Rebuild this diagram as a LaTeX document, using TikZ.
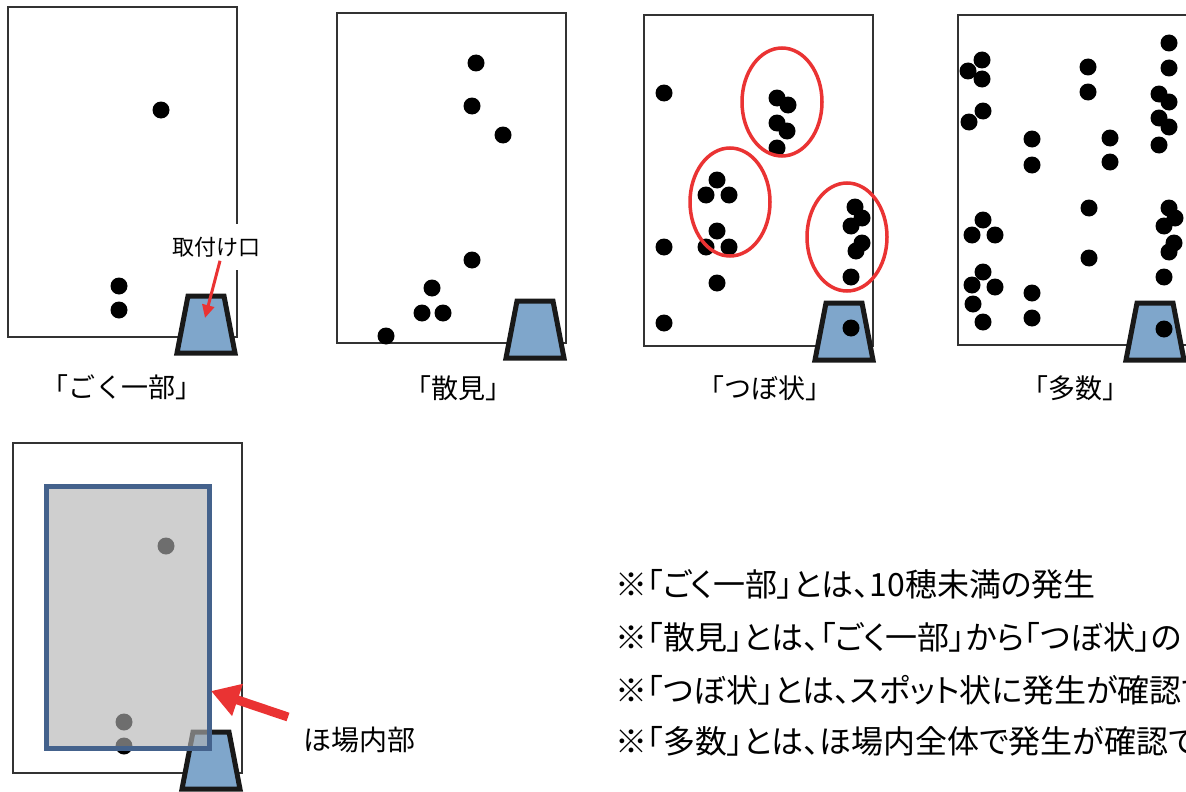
\documentclass[tikz,border=0pt]{standalone}
\usepackage{fontspec}
\usetikzlibrary{arrows.meta}
\newfontfamily\jp{Noto Sans CJK JP}
\newfontfamily\jpp[RawFeature=+palt]{Noto Sans CJK JP}
\definecolor{inletblue}{RGB}{127,166,203}
\definecolor{spotred}{RGB}{234,51,51}
\definecolor{frameblue}{RGB}{68,98,140}
\tikzset{
  field/.style={draw=black!80, line width=1.5pt},
  inletstyle/.style={draw=black!90, line width=5pt, fill=inletblue, line join=miter},
  inlet/.pic={\draw[inletstyle] (-18,0) -- (18,0) -- (29,57) -- (-29,57) -- cycle;},
  spot/.style={draw=spotred, line width=3.5pt},
  caption/.style={font=\jp\fontsize{27}{30}\selectfont, inner sep=0pt},
  note/.style={font=\jpp\fontsize{32}{34}\selectfont, anchor=west, inner sep=0pt},
  redarrow/.style={draw=spotred, fill=spotred},
}
\newcommand{\dotsat}[1]{\foreach \p in {#1} {\fill[black] \p circle (8.5);}}
\begin{document}
\begin{tikzpicture}[x=1pt,y=-1pt]
\useasboundingbox (0,0) rectangle (1186,792);
\clip (0,0) rectangle (1186,792);

% ---- panel 1
\draw[field] (8,7) rectangle (237,337);
\dotsat{(161,110),(119,286),(119,310)}
\pic at (206,296) {inlet};
\node[font=\jp\fontsize{22}{24}\selectfont, fill=white, inner xsep=2pt, inner ysep=13pt] (lab1) at (216.5,247) {取付け口};
\coordinate (tip1) at (205,318);
\draw[redarrow, line width=3pt, -{Triangle[length=13pt,width=12pt]}] ([shift={(3.5,-9.5)}]lab1.south) -- (tip1);
\node[caption] (cap1) at (122,387) {「ごく一部」};

% ---- panel 2
\draw[field] (337,13) rectangle (566,343);
\dotsat{(476,63),(472,106),(503,135),(472,260),(432,288),(422,313),(443,313),(386,336)}
\pic at (535,301) {inlet};
\node[caption] (cap2) at (458,388) {「散見」};

% ---- panel 3
\draw[field] (644,15) rectangle (873,346);
\dotsat{(664,93),(664,247),(664,323),(717,283),(777,98),(788,105),(777,123),(787,131),(777,148),(717,180),(706,195),(729,195),(717,231),(706,247),(729,247),(855,207),(862,218),(851,226),(862,243),(856,251),(851,277)}
\draw[spot] (782,102) ellipse [x radius=40, y radius=54];
\draw[spot] (730,202) ellipse [x radius=40, y radius=54];
\draw[spot] (847,237) ellipse [x radius=40, y radius=54];
\pic at (844,303) {inlet};
\dotsat{(851,328)}
\node[caption] (cap3) at (765,388) {「つぼ状」};

% ---- panel 4
\draw[field] (958,15) rectangle (1190,345);
\dotsat{(982,60),(968,71),(982,79),(983,111),(969,122),(1088,67),(1088,92),(1169,43),(1169,68),(1159,94),(1169,102),(1159,118),(1169,127),(1159,145),(1032,139),(1032,165),(1110,138),(1110,162),(1089,208),(1089,258),(983,220),(972,235),(995,235),(983,272),(972,285),(995,287),(973,304),(983,322),(1032,293),(1032,318),(1169,208),(1175,218),(1164,226),(1174,243),(1169,252),(1164,277)}
\pic at (1155,303) {inlet};
\dotsat{(1164,329)}
\node[caption] (cap4) at (1075,388) {「多数」};

% ---- bottom panel
\draw[field] (13,443) rectangle (242,773);
\dotsat{(166,546),(124,722),(124,746)}
\pic at (211,732) {inlet};
\draw[draw=frameblue, line width=5pt, fill=black!30, fill opacity=0.62] (46,486) rectangle (209,748);
\coordinate (tail2) at (288,717);
\coordinate (tip2) at (211,691);
\draw[redarrow, line width=9pt, -{Triangle[length=28pt,width=32pt]}] (tail2) -- (tip2);
\node[font=\jp\fontsize{28}{30}\selectfont, anchor=west, inner sep=0pt] (lbl2) at (303,740) {ほ場内部};

% ---- notes
\node[note] (n1) at (615,584) {※「ごく一部」とは、10穂未満の発生};
\node[note] (n2) at (615,637) {※「散見」とは、「ごく一部」から「つぼ状」の};
\node[note] (n3) at (615,690) {※「つぼ状」とは、スポット状に発生が確認で};
\node[note] (n4) at (615,741) {※「多数」とは、ほ場内全体で発生が確認で};
\end{tikzpicture}
\end{document}
